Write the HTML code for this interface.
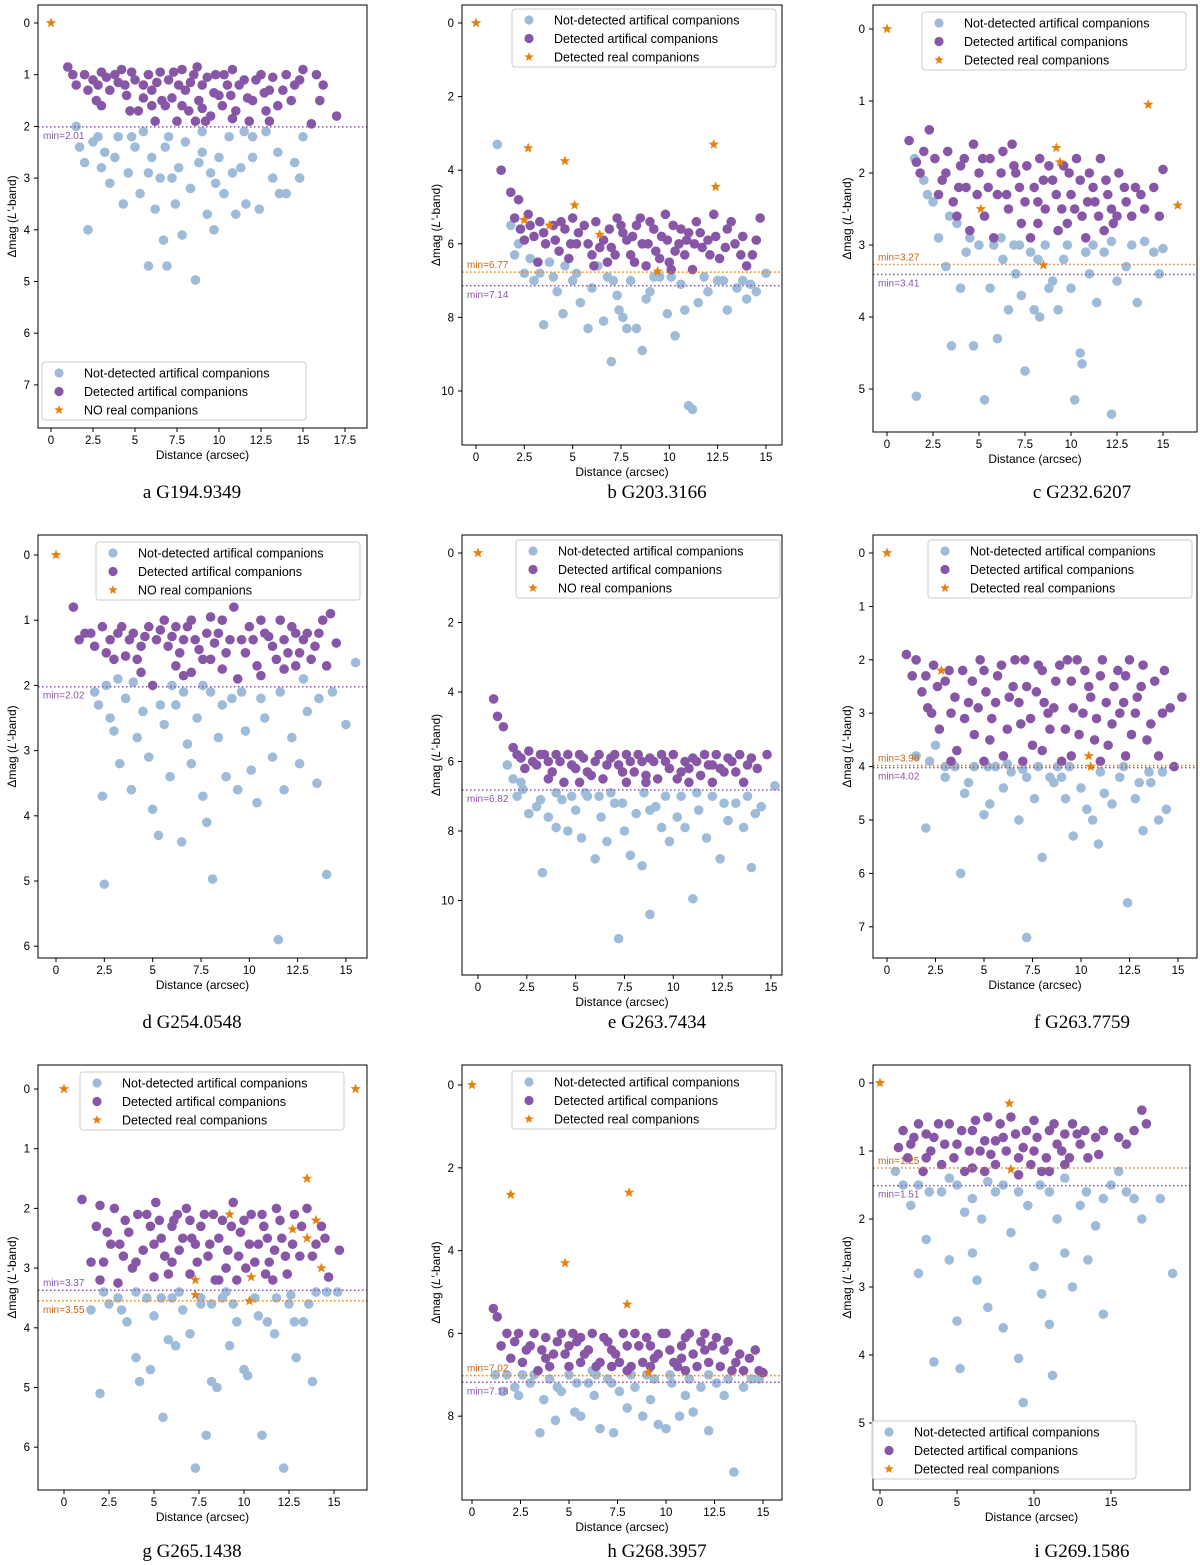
<!DOCTYPE html>
<html><head><meta charset="utf-8"><style>
body{margin:0;background:#fff}
svg{display:block;font-family:"Liberation Sans","DejaVu Sans",sans-serif}
</style></head><body>
<svg id="fig" width="1200" height="1565" viewBox="0 0 1200 1565"></svg>
<script>
// ---------- data (Δmag vs distance) ----------
const aStars=[[0,0]];
const aDet=[[1,0.85],[1.5,1.2],[2,1],[2.5,1.1],[3,0.95],[3.5,1.3],[3.8,1.0],[4.2,0.9],[4.5,1.4],[5,1.1],[5.2,1.7],[5.8,1.0],[6,1.3],[6.5,0.95],[6.8,1.6],[7,1.1],[7.5,1.9],[7.8,0.9],[8,1.3],[8.5,1.0],[8.8,1.5],[9,1.2],[9.5,1.8],[9.8,1.0],[10,1.4],[10.5,1.2],[10.8,0.9],[11,1.7],[11.5,1.1],[12,1.5],[12.5,1.0],[13,1.3],[13.5,1.6],[14,1.0],[14.5,1.2],[15,0.9],[15.8,1.0],[16.2,1.2],[17,1.8],[15.5,1.95],[3,1.6],[6.2,1.9],[9.2,1.9],[11.8,1.9],[8.2,1.7],[5.5,1.45],[10.2,1.6],[12.8,1.7],[7.2,1.45],[4,1.15]];
const aDetMore=[[1.3,1.0],[2.2,1.3],[2.8,1.2],[3.3,1.05],[4.4,1.2],[4.8,0.95],[5.5,1.2],[6.3,1.15],[6.6,1.5],[7.3,0.95],[7.6,1.2],[8.3,1.15],[8.7,0.85],[9.3,1.05],[9.7,1.35],[10.3,1.0],[10.7,1.4],[11.2,1.2],[11.7,1.45],[12.2,1.1],[12.7,1.35],[13.2,1.05],[13.8,1.3],[14.3,1.5],[14.8,1.1],[16,1.5],[2.7,1.5],[4.7,1.7],[8.6,1.9],[10.8,1.85],[13,1.9],[9,1.65],[6,1.6],[7.8,1.6]];
const aNd=[[1.5,2.0],[1.7,2.4],[2,2.7],[2.2,4.0],[2.5,2.3],[3,2.8],[3.2,2.5],[3.5,3.1],[4,2.2],[4.3,3.5],[4.6,2.9],[5,2.4],[5.3,3.3],[5.8,4.7],[6,2.6],[6.2,3.6],[6.5,3.0],[6.7,4.2],[6.9,4.7],[7,2.2],[7.4,3.5],[7.6,2.8],[7.8,4.1],[8,2.3],[8.3,3.2],[8.6,4.97],[9,2.5],[9.3,3.7],[9.5,2.9],[9.7,4.0],[10,2.6],[10.3,3.3],[10.6,2.2],[11,3.7],[11.3,2.8],[11.6,3.5],[12,2.6],[12.4,3.6],[12.8,2.1],[13.2,3.0],[13.6,3.3],[14,3.3],[14.5,2.7],[15,2.2],[12,2.2],[9,2.1],[5.5,2.1]];
const aNdMore=[[2.8,2.2],[3.8,2.6],[4.8,2.2],[6.8,2.4],[7.2,3.0],[8.8,2.7],[10.8,2.9],[11.5,2.1],[13.5,2.5],[14.8,3.0],[5.8,2.9],[9.8,3.1]];
const bStars=[[0,0],[2.7,3.4],[4.6,3.75],[12.3,3.3],[12.4,4.45],[5.1,4.95],[2.5,5.35],[3.8,5.5],[6.4,5.75],[9.4,6.75]];
const bDet=[[1.3,4.0],[1.8,4.6],[2.2,4.8],[2,5.3],[2.3,5.6],[2.7,5.2],[3,5.8],[3.3,5.4],[3.6,6.0],[4,5.5],[4.3,6.2],[4.6,5.6],[5,5.3],[5.2,6.0],[5.6,5.5],[6,6.3],[6.2,5.4],[6.6,5.9],[7,6.1],[7.3,5.3],[7.6,5.7],[8,6.3],[8.3,5.5],[8.6,6.0],[9,5.4],[9.3,6.2],[9.6,5.8],[10,6.5],[10.2,5.5],[10.5,6.0],[10.8,6.3],[11,5.7],[11.4,5.4],[11.7,6.1],[12,5.9],[12.3,5.2],[12.6,6.4],[13,5.6],[13.4,6.0],[13.8,5.8],[14.3,6.3],[14.7,5.3],[14,6.6],[8.8,6.6],[6.8,6.5],[4.8,6.4],[3.2,6.5],[11.2,6.7],[9.8,5.2],[7.8,5.9]];
const bDetMore=[[2.5,5.9],[2.8,5.5],[3.5,5.7],[4.1,5.9],[4.4,5.4],[4.9,6.0],[5.3,5.7],[5.8,6.0],[6.4,6.1],[6.9,5.6],[7.2,6.3],[7.5,5.5],[8.1,5.8],[8.5,5.3],[8.9,6.0],[9.2,5.6],[9.5,6.4],[9.9,5.9],[10.3,6.2],[10.6,5.6],[10.9,5.9],[11.3,6.0],[11.6,5.7],[12.1,6.3],[12.4,5.8],[12.9,6.1],[13.2,5.4],[13.7,6.3],[14.5,5.9],[10.1,6.7],[8.2,6.5],[6.1,6.6]];
const bNd=[[1.1,3.3],[1.8,5.5],[2.2,6.0],[2.5,6.8],[3,7.0],[3.5,8.2],[3.8,6.5],[4.2,7.3],[4.5,7.9],[5,7.0],[5.4,7.6],[5.8,8.3],[6,7.2],[6.3,6.6],[6.6,8.1],[7,9.2],[7.3,7.4],[7.6,8.0],[8,7.0],[8.3,8.3],[8.6,8.9],[9,7.3],[9.5,6.9],[9.9,7.9],[10.3,8.5],[10.6,7.1],[11,10.4],[11.2,10.5],[11.5,7.6],[12,7.3],[12.5,7.0],[13,7.8],[13.5,7.2],[14,7.5],[14.5,7.3],[15,6.8],[8.8,7.5],[5.2,6.8],[10.8,7.8],[7.8,8.3]];
const bNdMore=[[2,6.3],[2.8,6.4],[3.3,6.8],[4.6,6.6],[6.8,6.9],[7.4,7.8],[9.2,6.9],[10.1,6.9],[11.8,6.9],[12.8,7.0],[13.8,7.0],[14.2,7.1],[7.1,7.0],[4,6.9]];
const cStars=[[0,0],[14.2,1.05],[9.2,1.65],[9.4,1.85],[15.8,2.45],[5.1,2.5],[8.5,3.28]];
const cDet=[[1.2,1.55],[1.8,2.0],[2.3,1.4],[2.6,1.8],[3,2.1],[3.3,1.7],[3.6,2.4],[4,1.9],[4.3,2.2],[4.7,1.6],[5,2.0],[5.3,2.6],[5.6,1.8],[6,2.3],[6.3,1.7],[6.6,2.5],[7,2.0],[7.3,2.7],[7.6,1.9],[8,2.2],[8.3,1.8],[8.6,2.5],[9,2.1],[9.3,2.8],[9.6,1.9],[10,2.3],[10.3,1.8],[10.6,2.6],[11,2.0],[11.3,2.4],[11.6,1.8],[12,2.3],[12.3,2.7],[12.6,2.0],[13,2.4],[13.5,2.2],[14,2.5],[14.5,2.2],[15,1.95],[14.8,2.6],[4.5,2.8],[7.8,2.9],[10.8,2.9],[12.5,2.6],[6.8,1.6],[5.8,2.9]];
const cDetMore=[[1.6,1.85],[2,1.7],[2.8,2.3],[3.2,2.0],[3.9,2.2],[4.2,1.8],[4.9,2.3],[5.2,1.8],[5.5,2.2],[6.2,2.0],[6.5,2.3],[6.9,1.9],[7.2,2.2],[7.5,2.4],[8.2,2.4],[8.5,2.1],[8.8,1.9],[9.2,2.3],[9.5,2.5],[9.9,2.0],[10.2,2.5],[10.5,2.1],[10.9,2.4],[11.2,2.2],[11.5,2.6],[11.9,2.1],[12.2,2.5],[12.9,2.2],[13.3,2.6],[13.8,2.3],[3.8,2.6],[8.2,2.7],[9.8,2.7],[11.8,2.8]];
const cNd=[[1.5,1.8],[1.6,5.1],[2,2.1],[2.5,2.4],[2.8,2.9],[3.2,3.3],[3.5,4.4],[3.8,2.7],[4,3.6],[4.3,3.1],[4.7,4.4],[5,3.0],[5.3,5.15],[5.6,3.6],[6,4.3],[6.3,3.2],[6.6,3.9],[7,3.4],[7.3,3.7],[7.5,4.75],[7.8,3.1],[8,3.9],[8.3,4.0],[8.6,3.0],[9,3.5],[9.3,3.9],[9.6,3.2],[10,3.6],[10.2,5.15],[10.5,4.5],[10.6,4.65],[11,3.4],[11.4,3.8],[11.8,3.1],[12.2,5.35],[12.5,3.5],[13,3.3],[13.6,3.8],[14,2.95],[14.5,3.1],[15,3.05],[12.2,2.95],[6.2,2.9],[8.8,3.6]];
const cNdMore=[[2.2,2.3],[3.4,2.6],[4.5,2.9],[5.8,3.0],[6.9,3.0],[7.2,3.0],[8.2,3.2],[9.8,3.0],[10.8,3.1],[11.2,3.0],[13.3,3.0],[14.8,3.4]];
const dStars=[[0,0]];
const dDet=[[0.9,0.8],[1.5,1.2],[2,1.4],[2.4,1.1],[2.8,1.3],[3.2,1.2],[3.6,1.55],[4,1.2],[4.4,1.4],[4.8,1.1],[5.2,1.3],[5.6,1.0],[6,1.25],[6.4,1.5],[6.8,1.1],[7.2,1.3],[7.6,1.6],[8,0.95],[8.4,1.2],[8.8,1.5],[9.2,0.8],[9.6,1.3],[10,1.1],[10.4,1.7],[10.8,1.2],[11.2,1.4],[11.6,1.0],[12,1.5],[12.4,1.2],[12.8,1.3],[13.2,1.6],[13.6,1.2],[14.2,0.9],[14.5,1.35],[5,2.0],[7,1.8],[9.4,1.9],[11.8,1.75],[6.2,1.7],[3,1.6],[8.6,1.75]];
const dDetMore=[[1.2,1.3],[1.8,1.2],[2.6,1.5],[3.4,1.1],[3.8,1.3],[4.2,1.6],[4.6,1.25],[5.4,1.15],[5.8,1.4],[6.2,1.1],[6.6,1.3],[7,1.0],[7.4,1.45],[7.8,1.2],[8.2,1.35],[8.6,1.0],[9,1.3],[9.8,1.5],[10.2,1.3],[10.6,1.0],[11,1.25],[11.4,1.6],[11.8,1.3],[12.2,1.1],[12.6,1.5],[13,1.2],[13.4,1.4],[13.8,1.0],[14,1.7],[4.4,1.8],[8,1.6],[10.6,1.85],[12.4,1.7],[6.6,1.85]];
const dNd=[[2,2.1],[2.2,2.3],[2.4,3.7],[2.5,5.05],[2.8,2.5],[3,2.7],[3.3,3.2],[3.6,2.2],[3.9,3.6],[4.2,2.8],[4.5,2.4],[4.8,3.1],[5,3.9],[5.3,4.3],[5.6,2.6],[5.9,3.4],[6.2,2.3],[6.5,4.4],[6.8,2.9],[7,3.2],[7.3,2.5],[7.6,3.7],[7.8,4.1],[8.1,4.97],[8.4,2.8],[8.8,3.4],[9.1,2.2],[9.4,3.6],[9.8,2.7],[10.1,3.3],[10.4,3.8],[10.8,2.5],[11.2,3.1],[11.5,5.9],[11.8,3.6],[12.2,2.8],[12.6,3.2],[13,2.4],[13.5,3.5],[14,4.9],[14.3,2.1],[15,2.6],[15.5,1.65],[6,2.0],[8,2.1]];
const dNdMore=[[2.6,2.0],[3.2,1.9],[4,1.95],[5.4,2.3],[6.6,2.1],[7.6,2.0],[8.6,2.3],[9.6,2.1],[10.6,2.2],[11.6,2.1],[12.8,1.9],[13.6,2.2]];
const eStars=[[0,0]];
const eDet=[[0.8,4.2],[1,4.7],[1.3,5.0],[1.8,5.6],[2.2,5.9],[2.6,5.7],[3,6.1],[3.4,5.8],[3.8,6.3],[4.2,6.0],[4.6,5.8],[5,6.2],[5.4,5.9],[5.8,6.4],[6.2,5.8],[6.6,6.1],[7,5.8],[7.4,6.3],[7.8,6.0],[8.2,5.8],[8.6,6.4],[9,6.0],[9.4,5.8],[9.8,6.2],[10.2,6.5],[10.6,6.0],[11,5.9],[11.4,6.4],[11.8,6.1],[12.2,5.8],[12.6,6.3],[13,6.0],[13.4,5.8],[13.8,6.1],[14.3,6.2],[14.8,5.8],[9.2,6.5],[7.6,6.6],[4.4,6.6],[12,6.6],[6.4,6.5]];
const eDetMore=[[2,5.8],[2.4,6.2],[2.8,6.0],[3.2,5.8],[3.6,6.0],[4,5.8],[4.8,6.1],[5.2,5.8],[5.6,6.3],[6,6.0],[6.8,5.9],[7.2,6.1],[7.6,5.8],[8,6.3],[8.4,6.0],[8.8,5.9],[9.6,6.0],[10,5.8],[10.4,6.3],[10.8,6.6],[11.2,6.0],[11.6,5.8],[12,6.1],[12.4,6.2],[12.8,5.9],[13.2,6.3],[13.6,6.6],[14,5.9],[3.6,6.5],[5.2,6.6],[8.6,6.6],[10.8,6.2]];
const eNd=[[1.5,6.1],[1.8,6.5],[2,7.0],[2.3,6.8],[2.6,7.5],[3,7.3],[3.3,9.2],[3.6,7.6],[4,7.9],[4.3,7.1],[4.6,8.0],[5,7.4],[5.3,8.2],[5.6,7.0],[6,8.8],[6.3,7.6],[6.6,8.3],[7,7.2],[7.2,11.1],[7.5,8.0],[7.8,8.7],[8.1,7.5],[8.4,9.0],[8.8,10.4],[9.1,7.3],[9.4,7.9],[9.8,8.3],[10.2,7.6],[10.6,7.9],[11,9.95],[11.3,7.4],[11.7,8.2],[12,7.0],[12.4,8.8],[12.8,7.7],[13.2,7.2],[13.6,7.9],[14,9.05],[14.5,7.3],[15.2,6.7],[5.5,6.9],[8.5,6.9]];
const eNdMore=[[2.2,6.6],[3.2,7.1],[4,6.9],[4.8,7.0],[6.2,7.0],[6.8,6.9],[7.4,7.2],[8.8,7.4],[9.6,7.0],[10.4,7.0],[11.2,6.9],[12.6,7.2],[13.8,7.0],[14.2,7.5]];
const fStars=[[0,0],[2.8,2.2],[10.4,3.8],[10.5,4.0]];
const fDet=[[1,1.9],[1.5,2.0],[1.8,2.6],[2.1,2.9],[2.4,2.1],[2.7,3.3],[3,2.4],[3.3,3.0],[3.6,3.7],[3.9,2.2],[4.2,2.8],[4.5,3.4],[4.8,2.0],[5.1,2.6],[5.4,3.1],[5.7,2.3],[6,3.8],[6.3,2.7],[6.6,2.0],[6.9,3.2],[7.2,2.5],[7.5,3.6],[7.8,2.1],[8.1,2.8],[8.4,3.3],[8.7,2.4],[9,3.9],[9.3,2.0],[9.6,2.9],[9.9,3.4],[10.2,2.2],[10.5,2.7],[10.8,3.1],[11.1,2.0],[11.4,3.6],[11.7,2.5],[12,3.0],[12.3,2.3],[12.6,3.4],[12.9,2.7],[13.2,2.1],[13.6,3.2],[14,3.8],[14.3,2.2],[14.6,2.9],[15.2,2.7],[14.8,4.0],[5,3.9],[8,3.7],[11,3.9]];
const fDetMore=[[1.3,2.3],[2,2.3],[2.3,3.0],[2.6,2.5],[3.2,2.2],[3.5,2.7],[4,3.1],[4.4,2.4],[4.7,2.9],[5,2.2],[5.3,3.5],[5.6,2.8],[5.9,2.1],[6.2,3.3],[6.5,2.5],[6.8,2.8],[7.1,2.0],[7.4,3.1],[7.7,2.6],[8,2.2],[8.3,3.0],[8.6,2.9],[8.9,2.1],[9.2,3.3],[9.5,2.4],[9.8,2.0],[10.1,3.0],[10.4,2.5],[10.7,3.5],[11,2.3],[11.3,2.8],[11.6,3.2],[11.9,2.2],[12.2,2.8],[12.5,2.0],[12.8,3.0],[13.1,2.5],[13.4,3.5],[13.8,2.4],[14.2,3.0],[3.3,3.9],[7,3.9],[9.5,3.8],[12.3,3.8]];
const fNd=[[1.5,3.8],[2,5.15],[2.5,3.6],[3,4.0],[3.5,4.0],[3.8,6.0],[4,4.5],[4.5,4.0],[5,4.9],[5.3,4.7],[5.6,4.0],[6,4.4],[6.4,4.1],[6.8,5.0],[7.2,4.2],[7.2,7.2],[7.6,4.6],[8,5.7],[8.4,4.2],[8.8,4.0],[9.2,4.6],[9.6,5.3],[10,4.4],[10.3,4.8],[10.6,5.0],[10.9,5.45],[11.2,4.5],[11.6,4.7],[12,4.2],[12.4,6.55],[12.8,4.6],[13.2,5.2],[13.6,4.3],[14,5.0],[14.4,4.8],[13.5,4.1],[9,4.2],[7,4.05]];
const fNdMore=[[2.2,3.9],[3,4.2],[4.2,4.3],[5.2,4.0],[6.2,3.95],[7.8,4.0],[8.6,4.3],[9.4,4.0],[11,4.1],[12.2,4.0],[13,4.3],[14.2,4.1]];
const gStars=[[0,0],[16.2,0],[13.5,1.5],[14,2.2],[12.7,2.35],[13.5,2.5],[9.2,2.1],[14.3,3.0],[7.3,3.2],[10.4,3.15],[7.3,3.45],[10.3,3.55]];
const gDet=[[1,1.85],[1.5,2.9],[2,1.95],[2.4,2.4],[2.8,2.0],[3.1,2.6],[3.4,2.2],[3.8,3.0],[4.1,2.1],[4.4,2.7],[4.8,2.3],[5.1,1.9],[5.4,2.5],[5.8,3.1],[6.1,2.2],[6.4,2.7],[6.8,2.0],[7.1,2.5],[7.4,2.9],[7.8,2.1],[8.1,2.6],[8.4,3.2],[8.8,2.2],[9.1,2.7],[9.4,1.9],[9.8,2.4],[10.1,3.0],[10.4,2.1],[10.8,2.6],[11.1,2.3],[11.4,2.9],[11.8,2.0],[12.1,2.5],[12.4,3.1],[12.8,2.1],[13.1,2.8],[13.5,2.0],[14,2.6],[14.5,2.5],[15.3,2.7],[14.7,3.15],[6,2.9],[9.6,3.2],[3,3.25],[11.6,3.2]];
const gDetMore=[[1.8,2.3],[2.2,2.9],[2.6,2.6],[3.3,2.8],[3.6,2.4],[4,2.9],[4.6,2.1],[5,2.6],[5.3,2.2],[5.6,2.8],[6,2.3],[6.3,2.1],[6.6,2.5],[7,2.2],[7.3,2.6],[7.6,2.3],[8,2.8],[8.3,2.1],[8.6,2.5],[9,3.0],[9.3,2.3],[9.7,2.8],[10,2.2],[10.3,2.6],[10.6,2.9],[11,2.1],[11.3,2.5],[11.7,2.7],[12,2.2],[12.3,2.8],[12.7,2.6],[13.2,2.3],[13.8,2.8],[14.3,2.3],[2,3.2],[5,3.15],[7,3.1],[8.6,3.2],[11.2,3.1]];
const gNd=[[1.5,3.7],[2,5.1],[2.5,3.6],[3,3.5],[3.5,3.9],[4,4.5],[4.2,4.9],[4.6,3.5],[5,3.8],[5.5,5.5],[5.8,4.2],[6.2,4.3],[6.6,3.7],[7,4.1],[7.3,6.35],[7.6,3.6],[7.9,5.8],[8.2,4.9],[8.5,5.0],[8.8,3.5],[9.2,4.3],[9.6,3.9],[10,4.7],[10.2,4.8],[10.6,3.5],[11,5.8],[11.3,3.9],[11.7,4.1],[12.2,6.35],[12.5,3.6],[12.9,4.5],[13.3,3.9],[13.8,4.9],[14,3.4],[15.2,3.4],[9,3.4],[6,3.5],[4.8,4.7],[12.8,3.9]];
const gNdMore=[[2.2,3.4],[3.2,3.7],[4,3.4],[5.4,3.5],[6.4,3.4],[7.6,3.5],[8.2,3.6],[9.4,3.6],[10.8,3.8],[11.8,3.5],[12.6,3.45],[13.6,3.6],[14.6,3.4]];
const hStars=[[0,0],[2,2.65],[8.1,2.6],[4.8,4.3],[8,5.3],[9.1,6.95]];
const hDet=[[1.1,5.4],[1.3,5.6],[1.8,6.0],[2.2,6.2],[2.6,6.7],[3,6.3],[3.4,6.9],[3.8,6.1],[4.2,6.5],[4.6,6.0],[5,6.8],[5.4,6.2],[5.8,6.5],[6.2,6.0],[6.6,6.7],[7,6.2],[7.4,6.5],[7.8,6.0],[8.2,6.8],[8.6,6.3],[9,6.1],[9.4,6.6],[9.8,6.0],[10.2,6.4],[10.6,6.8],[11,6.1],[11.4,6.5],[11.8,6.2],[12.2,6.7],[12.6,6.1],[13,6.4],[13.4,6.9],[13.8,6.5],[14.3,6.6],[14.8,6.9],[15,6.95],[3.8,6.6],[7.2,6.8],[10.8,6.6],[5.6,6.1],[9.2,6.8],[12,6.0]];
const hDetMore=[[1.5,6.3],[2,6.6],[2.4,6.0],[2.8,6.4],[3.2,6.0],[3.6,6.4],[4,6.8],[4.4,6.2],[4.8,6.5],[5.2,6.0],[5.6,6.7],[6,6.4],[6.4,6.8],[6.8,6.1],[7.2,6.4],[7.6,6.7],[8,6.3],[8.4,6.0],[8.8,6.7],[9.2,6.3],[9.6,6.5],[10,6.0],[10.4,6.7],[10.8,6.3],[11.2,6.0],[11.6,6.8],[12,6.4],[12.4,6.3],[12.8,6.8],[13.2,6.2],[13.6,6.7],[14,6.9],[14.6,6.4],[5,6.3],[8,6.9],[11,6.9]];
const hNd=[[1.2,7.0],[1.6,7.4],[2.2,7.3],[2.6,7.0],[3,7.2],[3.5,8.4],[3.7,7.6],[4,7.1],[4.3,8.1],[4.6,7.4],[5,7.0],[5.3,7.9],[5.6,8.0],[6,7.2],[6.3,7.5],[6.6,8.3],[7,7.1],[7.3,8.4],[7.6,7.4],[8,7.8],[8.4,7.3],[8.8,8.0],[9.2,7.6],[9.6,8.2],[10,8.3],[10.3,7.2],[10.7,8.0],[11,7.5],[11.4,7.9],[11.8,7.3],[12.2,8.35],[12.6,7.2],[13,7.5],[13.5,9.35],[14,7.3],[14.4,7.1],[9,7.0],[6.4,7.0]];
const hNdMore=[[1.8,7.0],[2.4,7.5],[3.2,7.0],[4.4,7.3],[5.4,7.2],[6.2,6.9],[7.2,7.2],[8.2,7.0],[9.4,7.1],[10.2,7.0],[11.2,7.1],[12.2,7.0],[13.2,7.1],[14.8,7.1]];
const iStars=[[0,0],[8.4,0.3],[8.5,1.27]];
const iDet=[[1.5,0.7],[2,0.9],[2.5,0.6],[3,1.1],[3.5,0.8],[4,1.2],[4.5,0.6],[5,0.9],[5.5,1.3],[6,0.7],[6.5,1.0],[7,0.5],[7.5,1.2],[8,0.8],[8.5,0.5],[9,1.1],[9.5,0.7],[10,1.0],[10.5,1.3],[11,0.7],[11.5,0.9],[12,1.2],[12.5,0.6],[13,0.9],[13.5,1.1],[14,0.8],[14.5,0.7],[16.5,0.7],[17,0.4],[17.3,0.6],[3,0.75],[6,1.25],[9,1.35],[12,0.75],[7.5,0.85],[10,0.55]];
const iDetMore=[[1.2,0.95],[1.8,1.1],[2.2,0.8],[2.8,1.3],[3.3,1.0],[3.8,0.6],[4.2,0.9],[4.8,1.1],[5.3,0.7],[5.8,1.0],[6.2,0.55],[6.8,0.85],[7.2,1.05],[7.8,0.6],[8.2,1.0],[8.8,0.75],[9.3,0.95],[9.8,1.2],[10.2,0.8],[10.8,1.1],[11.3,0.6],[11.8,1.0],[12.3,1.1],[12.8,0.75],[13.3,0.7],[14.2,1.05],[15.5,0.8],[16,0.9],[6.8,1.3],[11,1.3]];
const iNd=[[1,1.3],[1.5,1.5],[2,1.8],[2.5,2.8],[3,2.3],[3.5,4.1],[4,1.6],[4.5,2.6],[5,3.5],[5.2,4.2],[5.5,1.9],[6,2.5],[6.3,2.9],[6.6,2.0],[7,3.3],[7.5,1.6],[8,3.6],[8.5,2.2],[9,4.05],[9.3,4.7],[9.6,1.8],[10,2.7],[10.5,3.1],[11,3.55],[11.2,4.3],[11.5,2.0],[12,2.5],[12.5,3.0],[13,1.8],[13.5,2.6],[14,2.1],[14.5,3.4],[15,1.5],[16,1.6],[16.5,1.7],[17,2.0],[18.2,1.7],[19,2.8],[4.5,1.4],[7,1.45]];
const iNdMore=[[2.5,1.5],[3.2,1.6],[5,1.5],[6,1.7],[8,1.5],[9,1.6],[10.4,1.5],[11,1.6],[12,1.4],[13.4,1.6],[14.5,1.7],[15.5,1.3]];
const captions=["a G194.9349","b G203.3166","c G232.6207","d G254.0548","e G263.7434","f G263.7759","g G265.1438","h G268.3957","i G269.1586"];
const minPurple=[2.01,7.14,3.41,2.02,6.82,4.02,3.37,7.18,1.51];
const minOrange=[null,6.77,3.27,null,null,3.98,3.55,7.02,1.25];
const xTicks=[[0,2.5,5,7.5,10,12.5,15,17.5],[0,2.5,5,7.5,10,12.5,15],[0,2.5,5,7.5,10,12.5,15],[0,2.5,5,7.5,10,12.5,15],[0,2.5,5,7.5,10,12.5,15],[0,2.5,5,7.5,10,12.5,15],[0,2.5,5,7.5,10,12.5,15],[0,2.5,5,7.5,10,12.5,15],[0,5,10,15]];
const yTicks=[[0,1,2,3,4,5,6,7],[0,2,4,6,8,10],[0,1,2,3,4,5],[0,1,2,3,4,5,6],[0,2,4,6,8,10],[0,1,2,3,4,5,6,7],[0,1,2,3,4,5,6],[0,2,4,6,8],[0,1,2,3,4,5]];
const starLabel=["NO real companions","Detected real companions","Detected real companions","NO real companions","NO real companions","Detected real companions","Detected real companions","Detected real companions","Detected real companions"];
const series=[[aStars,aDet.concat(aDetMore),aNd.concat(aNdMore)],[bStars,bDet.concat(bDetMore),bNd.concat(bNdMore)],[cStars,cDet.concat(cDetMore),cNd.concat(cNdMore)],[dStars,dDet.concat(dDetMore),dNd.concat(dNdMore)],[eStars,eDet.concat(eDetMore),eNd.concat(eNdMore)],[fStars,fDet.concat(fDetMore),fNd.concat(fNdMore)],[gStars,gDet.concat(gDetMore),gNd.concat(gNdMore)],[hStars,hDet.concat(hDetMore),hNd.concat(hNdMore)],[iStars,iDet.concat(iDetMore),iNd.concat(iNdMore)]];
const layout=[
 {box:[38,5,367,428],x0:51,xs:16.8,y0:23,ys:51.7,leg:[42,362],cap:[140,498]},
 {box:[462,5,782,445],x0:476,xs:19.33,y0:23,ys:36.8,leg:[512,9],cap:[605,498]},
 {box:[873,5,1197,432],x0:887,xs:18.4,y0:29,ys:72,leg:[922,12],cap:[1030,498]},
 {box:[38,535,367,958],x0:56,xs:19.33,y0:555,ys:65.2,leg:[96,542],cap:[140,1028]},
 {box:[462,535,782,975],x0:478,xs:19.53,y0:553,ys:34.75,leg:[516,540],cap:[605,1028]},
 {box:[873,535,1197,958],x0:887,xs:19.4,y0:553,ys:53.4,leg:[928,540],cap:[1030,1028]},
 {box:[38,1065,367,1490],x0:64,xs:18,y0:1089,ys:59.7,leg:[80,1072],cap:[140,1557]},
 {box:[462,1065,782,1500],x0:472,xs:19.4,y0:1085,ys:41.4,leg:[512,1071],cap:[605,1557]},
 {box:[873,1065,1190,1490],x0:880,xs:15.4,y0:1083,ys:68,leg:[872,1421],cap:[1030,1557]}
];
const C_ND="#9ebcda",C_DET="#8856a7",C_STAR="#e6820e",C_OR="#c9640f";
const NS="http://www.w3.org/2000/svg";
const svg=document.getElementById('fig');
function mk(tag,attrs,parent){const e=document.createElementNS(NS,tag);for(const k in attrs)e.setAttribute(k,attrs[k]);(parent||svg).appendChild(e);return e;}
function starPath(cx,cy,r){let p="";for(let i=0;i<10;i++){const a=-Math.PI/2+i*Math.PI/5;const rr=i%2?r*0.42:r;p+=(i?"L":"M")+(cx+rr*Math.cos(a)).toFixed(1)+","+(cy+rr*Math.sin(a)).toFixed(1);}return p+"Z";}
function fmt(v){return Number.isInteger(v)?String(v):v.toFixed(1);}
layout.forEach((L,pi)=>{
  const g=mk('g',{});
  
  
  const X=v=>L.x0+v*L.xs, Y=v=>L.y0+v*L.ys;
  const [l,t,r,b]=L.box;
  const clipId='clip'+pi;
  const cp=mk('clipPath',{id:clipId},g);mk('rect',{x:l,y:t,width:r-l,height:b-t},cp);
  const pts=mk('g',{'clip-path':'url(#'+clipId+')'},g);
  const [stars,det,nd]=series[pi];
  nd.forEach(p=>{const c=mk('circle',{cx:X(p[0]),cy:Y(p[1]),r:4.8,fill:C_ND},pts);
    
    });
  det.forEach(p=>{const c=mk('circle',{cx:X(p[0]),cy:Y(p[1]),r:4.8,fill:C_DET},pts);
    
    });
  const mp=minPurple[pi], mo=minOrange[pi];
  // smaller value label above its line, larger value below
  if(mo!==null){const ln=mk('line',{x1:l,x2:r,y1:Y(mo),y2:Y(mo),stroke:C_STAR,'stroke-width':1.5,'stroke-dasharray':'1.5,2.5'},g);
    
    
    const above=mo<mp;
    const tx=mk('text',{x:l+5,y:Y(mo)+(above?-4:12),'font-size':10,fill:C_OR},g);tx.textContent='min='+mo.toFixed(2);
    
    }
  const lp=mk('line',{x1:l,x2:r,y1:Y(mp),y2:Y(mp),stroke:C_DET,'stroke-width':1.5,'stroke-dasharray':'1.5,2.5'},g);
  
  
  const pAbove=(mo!==null&&mp<mo);
  const tp=mk('text',{x:l+5,y:Y(mp)+(pAbove?-4:12),'font-size':10,fill:C_DET},g);tp.textContent='min='+mp.toFixed(2);
  
  
  stars.forEach(p=>{const s=mk('path',{d:starPath(X(p[0]),Y(p[1]),5.5),fill:C_STAR},pts);
    
    });
  const bx=mk('rect',{x:l,y:t,width:r-l,height:b-t,fill:'none',stroke:'#000','stroke-width':1},g);
  
  
  xTicks[pi].forEach(v=>{const x=X(v);if(x<l||x>r)return;
    mk('line',{x1:x,x2:x,y1:b,y2:b+4,stroke:'#000'},g);
    const tx=mk('text',{x:x,y:b+16,'font-size':11.5,'text-anchor':'middle'},g);tx.textContent=fmt(v);
    
    });
  yTicks[pi].forEach(v=>{const y=Y(v);if(y<t||y>b)return;
    mk('line',{x1:l-4,x2:l,y1:y,y2:y,stroke:'#000'},g);
    const tx=mk('text',{x:l-8,y:y+4,'font-size':11.5,'text-anchor':'end'},g);tx.textContent=v;
    
    });
  const xl=mk('text',{x:(l+r)/2,y:b+31,'font-size':12,'text-anchor':'middle'},g);xl.textContent='Distance (arcsec)';
  
  
  const yl=mk('text',{x:0,y:0,'font-size':12,'text-anchor':'middle',transform:`translate(${l-22},${(t+b)/2}) rotate(-90)`},g);
  yl.innerHTML='Δmag (<tspan font-style="italic">L′</tspan>-band)';
  
  
  const [lx,ly]=L.leg;
  const lg=mk('g',{},g);
  
  
  mk('rect',{x:lx,y:ly,width:264,height:58,rx:3,fill:'#fff','fill-opacity':0.85,stroke:'#ccc'},lg);
  const labs=['Not-detected artifical companions','Detected artifical companions',starLabel[pi]];
  labs.forEach((s,i)=>{const cy=ly+11+i*18.5;
    if(i<2)mk('circle',{cx:lx+17,cy:cy,r:4.6,fill:i?C_DET:C_ND},lg);
    else mk('path',{d:starPath(lx+17,cy,5),fill:C_STAR},lg);
    const tx=mk('text',{x:lx+42,y:cy+4.5,'font-size':12.5},lg);tx.textContent=s;
    
    });
  const cap=mk('text',{x:L.cap[0]+52,y:L.cap[1],'font-size':19,'text-anchor':'middle','font-family':'"Liberation Serif",serif'},g);
  cap.textContent=captions[pi];
  
  
});
</script>
</body></html>
